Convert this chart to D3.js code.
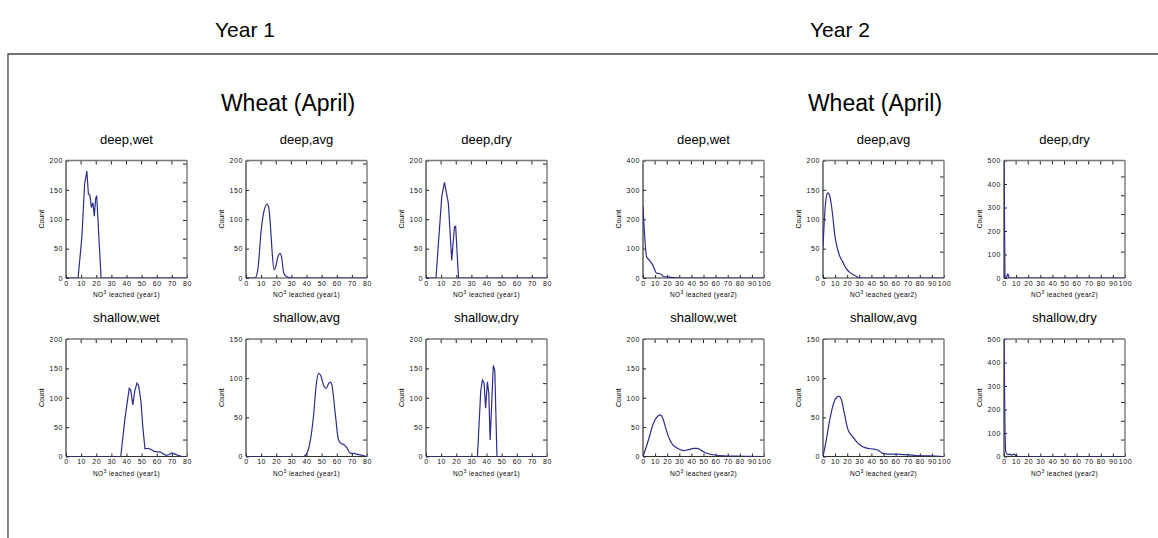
<!DOCTYPE html>
<html>
<head>
<meta charset="utf-8">
<script src="https://cdn.jsdelivr.net/npm/d3@7"></script>
<style>
  body { margin: 0; background: #fff; }
  svg { font-family: "Liberation Sans", Arial, sans-serif; }
  .tick text { font-size: 7px; letter-spacing: 0.6px; fill: #111; }
  .axis path.domain { display: none; }
</style>
</head>
<body>
<svg id="chart" width="1158" height="538"></svg>
<script>
// ---- data ----
var years = ["Year 1", "Year 2"];
var cropTitle = "Wheat (April)";
var soils = ["deep", "shallow"];
var weathers = ["wet", "avg", "dry"];
var xMax = [80, 100];
var xLabels = ["year1", "year2"];
var yMaxYear1 = [[200, 200, 200], [200, 150, 200]];
var yMaxYear2 = [[400, 200, 500], [200, 150, 500]];

// [NO3 leached, count]
var y1DeepWet = [[0,0],[8,0],[10.5,70],[12.3,160],[13.8,182],[14.8,143],[15.8,141],[16.8,120],[17.8,128],[18.7,105],[19.6,135],[20.3,140],[23.2,0],[80,0]];
var y1DeepAvg = [[0,0],[6,0],[8,18],[10,80],[12,115],[14,126],[15,120],[16,95],[17,55],[18.5,14],[19.5,18],[21,35],[22.5,42],[23.5,36],[25,8],[27,2],[30,0],[80,0]];
var y1DeepDry = [[0,0],[6.6,0],[10.4,138],[12.2,163],[13.5,145],[14.8,127],[17,30],[18.8,87],[19.6,88],[21.5,0],[80,0]];
var y1ShallowWet = [[0,0],[36.2,0],[39,65],[41.8,116],[42.8,113],[44.2,88],[45.5,112],[46.9,125],[48,121],[49.5,95],[50.8,50],[52.2,13],[54.5,14],[56.8,11],[58,9],[60,8],[62,8],[64,5],[66,2],[68,3],[70,6],[72,4],[74,2],[77,0],[80,0]];
var y1ShallowAvg = [[0,0],[38,0],[40.2,4],[42.4,19],[44.6,51],[46.4,91],[48,106],[49.5,103],[51.3,91],[53,87],[54.6,93],[55.7,95],[56.8,91],[59,55],[61.2,21],[63.4,16],[65,15],[66.7,11],[69,4],[71.2,4],[73.4,3],[75.6,2],[77.8,1],[80,0]];
var y1ShallowDry = [[0,0],[34,0],[36.2,112],[37.3,130],[38.4,125],[39.4,82],[40.6,127],[41.5,108],[42.4,28],[43.6,100],[44.5,155],[45.5,146],[46.9,0],[80,0]];

var y2DeepWet = [[0,245],[3,72],[5,62],[7.5,48],[9,35],[11,17],[13,15],[15,13],[17,5],[20,4],[24,2],[30,0],[100,0]];
var y2DeepAvg = [[0,52],[1.4,109],[2.7,137],[4.1,145],[5.5,140],[6.8,126],[8.2,103],[9.6,75],[11,58],[13.7,38],[16.4,27],[19.2,16],[21.9,10],[24.7,6],[27.4,3],[30,0],[100,0]];
var y2DeepDry = [[0,520],[0.8,5],[2,3],[3.2,18],[4.2,2],[6,0],[100,0]];
var y2ShallowWet = [[0,0],[2.8,17],[5.6,36],[8.3,55],[11.1,66],[13.9,71],[15.3,69],[16.7,63],[19.4,44],[22.2,28],[25,19],[27.8,15],[30.6,12],[33.3,10],[36,11],[38.9,12],[41.7,14],[44.4,14],[47.2,12],[50,8],[52.8,5.5],[58,3],[66.7,1],[75,0.5],[100,0]];
var y2ShallowAvg = [[0,0],[2.7,21],[5.5,46],[8.2,65],[11,75],[13.2,77],[15.1,73],[17.8,54],[20.5,35],[24.7,25],[28.8,17],[32.9,12.5],[37,10.4],[41,9.6],[45.2,8.3],[49.3,4],[53.4,3],[60.3,3],[65.8,2.5],[71.2,2],[76.7,1.2],[87.7,0.8],[100,0]];
var y2ShallowDry = [[0,520],[0.8,120],[1.5,20],[3,8],[5,10],[6,6],[8,10],[10,3],[12,0],[100,0]];

var series = [
  [[y1DeepWet, y1DeepAvg, y1DeepDry], [y1ShallowWet, y1ShallowAvg, y1ShallowDry]],
  [[y2DeepWet, y2DeepAvg, y2DeepDry], [y2ShallowWet, y2ShallowAvg, y2ShallowDry]]
];
var yMax = [yMaxYear1, yMaxYear2];

// ---- layout ----
var svg = d3.select("#chart");
var colX = [[66, 246, 426], [643, 823, 1004]];
var rowY = [160.5, 339];
var pw = 121, ph = 117.5;
var lineColor = "#2c2c8e";

// outer frame
svg.append("path")
  .attr("d", "M8,538 L8,54 L1158,54")
  .attr("fill", "none").attr("stroke", "#444").attr("stroke-width", 1.3);

var yearCenters = [245, 840];
var cropCenters = [288, 875];
years.forEach(function(yr, yi) {
  svg.append("text").attr("x", yearCenters[yi]).attr("y", 37)
    .attr("text-anchor", "middle").style("font-size", "21px").text(yr);
  svg.append("text").attr("x", cropCenters[yi]).attr("y", 111)
    .attr("text-anchor", "middle").style("font-size", "23px").text(cropTitle);
});

var defs = svg.append("defs");

years.forEach(function(yr, yi) {
  soils.forEach(function(soil, si) {
    weathers.forEach(function(w, wi) {
      var x0 = colX[yi][wi], y0 = rowY[si];
      var g = svg.append("g").attr("transform", "translate(" + x0 + "," + y0 + ")");
      var x = d3.scaleLinear().domain([0, xMax[yi]]).range([0, pw]);
      var y = d3.scaleLinear().domain([0, yMax[yi][si][wi]]).range([ph, 0]);
      var clipId = "clip_" + yi + "_" + si + "_" + wi;
      defs.append("clipPath").attr("id", clipId)
        .append("rect").attr("x", 0).attr("y", 0).attr("width", pw).attr("height", ph);

      // panel title
      g.append("text").attr("x", pw / 2).attr("y", -17)
        .attr("text-anchor", "middle").style("font-size", "13px").text(soil + "," + w);

      // axes
      var xAxis = d3.axisBottom(x).tickValues(d3.range(0, xMax[yi] + 1, 10))
        .tickSize(-3).tickPadding(3);
      g.append("g").attr("class", "axis").attr("transform", "translate(0," + ph + ")").call(xAxis);
      var yAxis = d3.axisLeft(y).ticks(5).tickSize(-3).tickPadding(3);
      if (yMax[yi][si][wi] >= 400) yAxis.tickValues(d3.range(0, yMax[yi][si][wi] + 1, 100));
      else yAxis.tickValues(d3.range(0, yMax[yi][si][wi] + 1, 50));
      g.append("g").attr("class", "axis").call(yAxis);
      g.selectAll(".tick line").attr("stroke", "#222");

      // top ticks (inward)
      var topTicks = d3.range(10, xMax[yi], 10);
      g.selectAll(".ttick").data(topTicks).enter().append("line")
        .attr("x1", function(d) { return x(d); }).attr("x2", function(d) { return x(d); })
        .attr("y1", 0).attr("y2", 4).attr("stroke", "#222");
      // right ticks (inward)
      var rScale = d3.scaleLinear().domain([0, 1]).range([0, ph]);
      var rTicks = d3.range(si === 0 ? (yi === 0 ? 0.03 : 0.14) : 0.22, 0.9, 0.16);
      g.selectAll(".rtick").data(rTicks).enter().append("line")
        .attr("x1", pw).attr("x2", pw - 4)
        .attr("y1", function(d) { return rScale(d); }).attr("y2", function(d) { return rScale(d); })
        .attr("stroke", "#222");

      // frame
      g.append("line").attr("x1", 0).attr("x2", 0).attr("y1", 0).attr("y2", ph)
        .attr("stroke", "#333").attr("stroke-width", 1.2);
      g.append("line").attr("x1", 0).attr("x2", pw).attr("y1", ph).attr("y2", ph)
        .attr("stroke", "#333").attr("stroke-width", 1.2);
      g.append("line").attr("x1", 0).attr("x2", pw).attr("y1", 0).attr("y2", 0)
        .attr("stroke", "#777").attr("stroke-width", 1.4);
      g.append("line").attr("x1", pw).attr("x2", pw).attr("y1", 0).attr("y2", ph)
        .attr("stroke", "#777").attr("stroke-width", 1.4);

      // axis titles
      g.append("text").attr("transform", "translate(-22," + (ph / 2) + ") rotate(-90)")
        .attr("text-anchor", "middle").style("font-size", "7px").text("Count");
      var xl = g.append("text").attr("x", pw / 2).attr("y", ph + 19)
        .attr("text-anchor", "middle").style("font-size", "6.5px").style("letter-spacing", "0.4px");
      xl.append("tspan").text("NO");
      xl.append("tspan").attr("dy", -3).style("font-size", "5px").text("3");
      xl.append("tspan").attr("dy", 3).text(" leached (" + xLabels[yi] + ")");

      // data line
      var smooth = !(yi === 0 && wi !== 1);
      var line = d3.line()
        .x(function(d) { return x(d[0]); })
        .y(function(d) { return y(d[1]); })
        .curve(smooth ? d3.curveMonotoneX : d3.curveLinear);
      g.append("path").datum(series[yi][si][wi])
        .attr("clip-path", "url(#" + clipId + ")")
        .attr("d", line)
        .attr("fill", "none").attr("stroke", lineColor).attr("stroke-width", 1.2);
    });
  });
});
</script>
</body>
</html>
